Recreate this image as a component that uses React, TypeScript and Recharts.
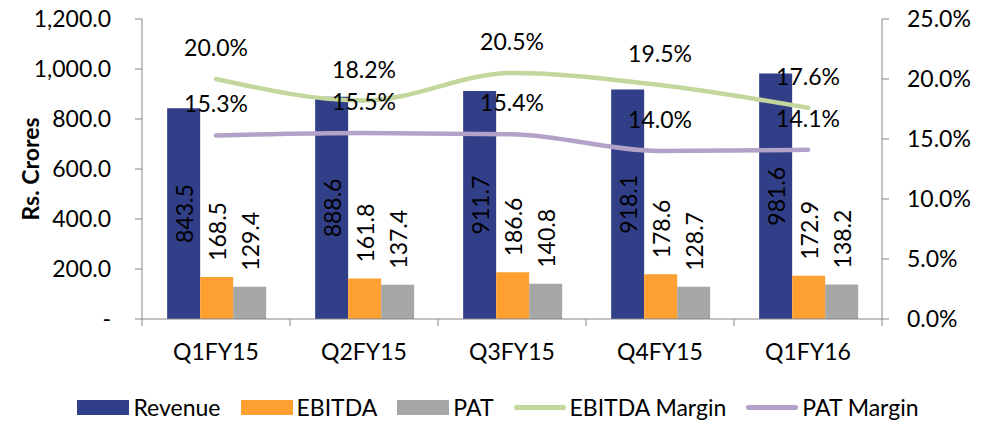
import React from "react";
import {
  ComposedChart,
  Bar,
  Line,
  XAxis,
  YAxis,
  Legend,
  LabelList,
} from "recharts";

const categories = ["Q1FY15", "Q2FY15", "Q3FY15", "Q4FY15", "Q1FY16"];
const revenue = [843.5, 888.6, 911.7, 918.1, 981.6];
const ebitda = [168.5, 161.8, 186.6, 178.6, 172.9];
const pat = [129.4, 137.4, 140.8, 128.7, 138.2];
const ebitdaMargin = [20.0, 18.2, 20.5, 19.5, 17.6];
const patMargin = [15.3, 15.5, 15.4, 14.0, 14.1];
const leftTicks = [0, 200, 400, 600, 800, 1000, 1200];
const rightTicks = [0, 5, 10, 15, 20, 25];

const data = categories.map((name, i) => ({
  name,
  revenue: revenue[i],
  ebitda: ebitda[i],
  pat: pat[i],
  ebitdaMargin: ebitdaMargin[i],
  patMargin: patMargin[i],
}));

const W = 980;
const H = 423;
const LEFT_W = 134;
const RIGHT_W = 106;
const HALF_BAND = (W - LEFT_W - RIGHT_W) / categories.length / 2;

const FONT = "Lato, Carlito, sans-serif";
const AXIS = "#868686";
const colors = {
  revenue: "#313f88",
  ebitda: "#fd9f31",
  pat: "#a6a6a6",
  ebitdaMargin: "#c3d69b",
  patMargin: "#b3a2c7",
};

const fmtLeft = (v: number) =>
  v === 0
    ? "-"
    : v.toLocaleString("en-US", {
        minimumFractionDigits: 1,
        maximumFractionDigits: 1,
      });

const XTick = (props: any) => {
  const { x, y, payload, index } = props;
  const top = y - 25;
  return (
    <g>
      <line x1={x - HALF_BAND} x2={x - HALF_BAND} y1={top} y2={top + 7} stroke={AXIS} />
      {index === categories.length - 1 && (
        <line x1={x + HALF_BAND} x2={x + HALF_BAND} y1={top} y2={top + 7} stroke={AXIS} />
      )}
      <text x={x} y={y} dy="0.71em" textAnchor="middle" fontSize={23} fill="#000">
        {payload.value}
      </text>
    </g>
  );
};

const insideLabel = (props: any) => {
  const { x, y, width, height, value } = props;
  const cx = x + width / 2;
  const cy = y + height / 2;
  return (
    <text
      x={cx}
      y={cy}
      transform={`rotate(-90 ${cx} ${cy})`}
      textAnchor="middle"
      dominantBaseline="central"
      fontSize={23}
      fill="#000"
    >
      {value.toFixed(1)}
    </text>
  );
};

const outsideLabel = (props: any) => {
  const { x, y, width, value } = props;
  const cx = x + width / 2;
  const cy = y - 16;
  return (
    <text
      x={cx}
      y={cy}
      transform={`rotate(-90 ${cx} ${cy})`}
      textAnchor="start"
      dominantBaseline="central"
      fontSize={23}
      fill="#000"
    >
      {value.toFixed(1)}
    </text>
  );
};

const pctLabel = (props: any) => {
  const { x, y, value } = props;
  return (
    <text
      x={x}
      y={y - 32}
      textAnchor="middle"
      dominantBaseline="central"
      fontSize={23}
      fill="#000"
    >
      {value.toFixed(1)}%
    </text>
  );
};

const legendItems = [
  { name: "Revenue", color: colors.revenue, kind: "rect" },
  { name: "EBITDA", color: colors.ebitda, kind: "rect" },
  { name: "PAT", color: colors.pat, kind: "rect" },
  { name: "EBITDA Margin", color: colors.ebitdaMargin, kind: "line" },
  { name: "PAT Margin", color: colors.patMargin, kind: "line" },
];

const LegendContent = () => (
  <div
    style={{
      height: 60,
      boxSizing: "border-box",
      paddingTop: 34,
      display: "flex",
      justifyContent: "center",
      fontFamily: FONT,
      fontSize: 23,
      color: "#000",
    }}
  >
    {legendItems.map((item, i) => (
      <div
        key={item.name}
        style={{
          display: "flex",
          alignItems: "center",
          height: 20,
          marginLeft: i === 0 ? 0 : 20,
        }}
      >
        {item.kind === "rect" ? (
          <div style={{ width: 52, height: 15, background: item.color }} />
        ) : (
          <div
            style={{ width: 52, height: 5, borderRadius: 3, background: item.color }}
          />
        )}
        <span style={{ marginLeft: 4, lineHeight: "20px" }}>{item.name}</span>
      </div>
    ))}
  </div>
);

const YLabel = (props: any) => {
  const { viewBox } = props;
  const cx = viewBox.x + 22;
  const cy = viewBox.y + viewBox.height / 2;
  return (
    <text
      x={cx}
      y={cy}
      transform={`rotate(-90 ${cx} ${cy})`}
      textAnchor="middle"
      dominantBaseline="central"
      fontSize={23}
      fontWeight="bold"
      fill="#000"
    >
      Rs. Crores
    </text>
  );
};

export default function App() {
  return (
    <div style={{ width: W, height: H, marginTop: -8, fontFamily: FONT }}>
      <ComposedChart
        width={W}
        height={H}
        data={data}
        margin={{ top: 19, right: 0, bottom: 0, left: 0 }}
        barCategoryGap="17%"
        barGap={0}
      >
        <XAxis
          dataKey="name"
          height={44}
          stroke={AXIS}
          tickLine={false}
          tickSize={7}
          tickMargin={18}
          tick={<XTick />}
          interval={0}
        />
        <YAxis
          yAxisId="left"
          width={LEFT_W}
          domain={[0, 1200]}
          ticks={leftTicks}
          tickFormatter={fmtLeft}
          stroke={AXIS}
          tickSize={7}
          tickMargin={24}
          tick={{ fill: "#000", fontSize: 23 }}
          label={<YLabel />}
        />
        <YAxis
          yAxisId="right"
          orientation="right"
          width={RIGHT_W}
          domain={[0, 25]}
          ticks={rightTicks}
          tickFormatter={(v: number) => `${v.toFixed(1)}%`}
          stroke={AXIS}
          tickSize={7}
          tickMargin={18}
          tick={{ fill: "#000", fontSize: 23 }}
        />
        <Legend verticalAlign="bottom" content={<LegendContent />} />
        <Bar yAxisId="left" dataKey="revenue" name="Revenue" fill={colors.revenue} isAnimationActive={false}>
          <LabelList dataKey="revenue" content={insideLabel} />
        </Bar>
        <Bar yAxisId="left" dataKey="ebitda" name="EBITDA" fill={colors.ebitda} isAnimationActive={false}>
          <LabelList dataKey="ebitda" content={outsideLabel} />
        </Bar>
        <Bar yAxisId="left" dataKey="pat" name="PAT" fill={colors.pat} isAnimationActive={false}>
          <LabelList dataKey="pat" content={outsideLabel} />
        </Bar>
        <Line
          yAxisId="right"
          type="monotone"
          dataKey="ebitdaMargin"
          name="EBITDA Margin"
          stroke={colors.ebitdaMargin}
          strokeWidth={4.5}
          strokeLinecap="round"
          dot={false}
          isAnimationActive={false}
        >
          <LabelList dataKey="ebitdaMargin" content={pctLabel} />
        </Line>
        <Line
          yAxisId="right"
          type="monotone"
          dataKey="patMargin"
          name="PAT Margin"
          stroke={colors.patMargin}
          strokeWidth={4.5}
          strokeLinecap="round"
          dot={false}
          isAnimationActive={false}
        >
          <LabelList dataKey="patMargin" content={pctLabel} />
        </Line>
      </ComposedChart>
    </div>
  );
}
